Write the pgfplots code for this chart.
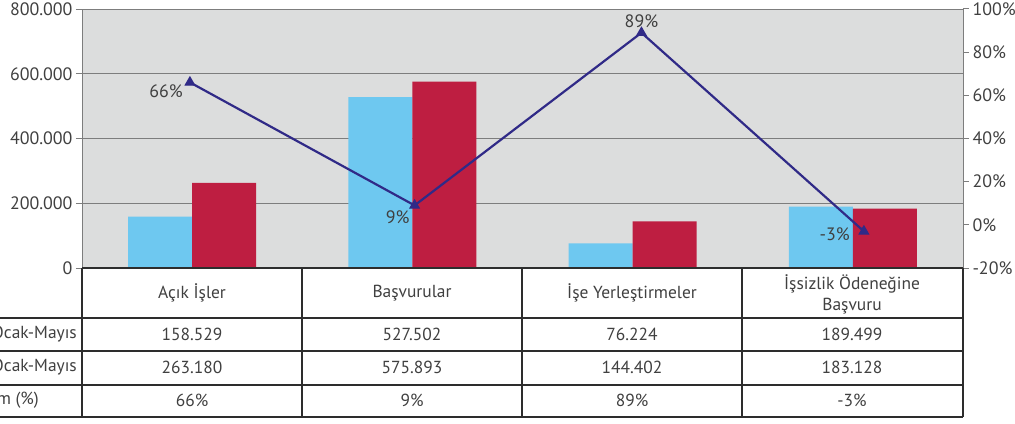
\documentclass[border=0pt]{standalone}
\usepackage{pgfplots}
\pgfplotsset{compat=1.18}
\usepackage{fontspec}
\setmainfont{PT Sans}
\definecolor{bg}{RGB}{220,221,221}
\definecolor{lblue}{RGB}{110,200,240}
\definecolor{cred}{RGB}{190,30,65}
\definecolor{navy}{RGB}{48,42,135}
\definecolor{gridc}{RGB}{125,125,125}
\definecolor{txt}{RGB}{64,64,64}
\definecolor{tline}{RGB}{45,45,45}
\begin{document}
\begin{tikzpicture}[x=1bp,y=1bp]
\path[use as bounding box] (0,0) rectangle (1015,423);
\begin{axis}[at={(82bp,155bp)}, anchor=south west, scale only axis,
  width=881bp, height=259bp,
  xmin=-0.5, xmax=3.5, ymin=0, ymax=800000,
  axis background/.style={fill=bg},
  ybar=0pt, bar width=64bp,
  xtick=\empty,
  ytick={0,200000,400000,600000,800000},
  yticklabels={0,200.000,400.000,600.000,800.000},
  scaled y ticks=false,
  ymajorgrids, major grid style={draw=gridc, line width=1pt},
  axis line style={draw=gridc, line width=1pt},
  tick align=outside, ytick pos=left, major tick length=6bp,
  tick style={draw=gridc, line width=1pt},
  yticklabel style={font=\fontsize{18}{18}\selectfont, text=txt},
  clip=false]
\addplot[fill=lblue, draw=none] coordinates {(0,158529) (1,527502) (2,76224) (3,189499)};
\addplot[fill=cred, draw=none] coordinates {(0,263180) (1,575893) (2,144402) (3,183128)};
\end{axis}
\begin{axis}[at={(82bp,155bp)}, anchor=south west, scale only axis,
  width=881bp, height=259bp,
  xmin=-0.5, xmax=3.5, ymin=-20, ymax=100,
  axis x line=none, axis y line*=right,
  ytick={-20,0,20,40,60,80,100},
  yticklabel={\pgfmathprintnumber[assume math mode=true]{\tick}\%},
  /pgf/number format/assume math mode=true,
  axis line style={draw=gridc, line width=1pt},
  tick align=outside, major tick length=6bp,
  tick style={draw=gridc, line width=1pt},
  yticklabel style={font=\fontsize{18}{18}\selectfont, text=txt},
  clip=false]
\addplot[navy, line width=2.2pt, mark=triangle*, mark size=5.5bp, mark options={line width=1pt}] coordinates {(-0.01,66) (1.01,9) (2.04,89) (3.05,-3)};
\node[anchor=north east, text=txt, font=\fontsize{18}{18}\selectfont, inner sep=1pt] at ([xshift=-6bp,yshift=-1bp]axis cs:-0.01,66) {66\%};
\node[anchor=north east, text=txt, font=\fontsize{18}{18}\selectfont, inner sep=1pt] at ([xshift=-4bp,yshift=-4bp]axis cs:1.01,9) {9\%};
\node[anchor=south, text=txt, font=\fontsize{18}{18}\selectfont, inner sep=1pt] at ([yshift=4bp]axis cs:2.04,89) {89\%};
\node[anchor=east, text=txt, font=\fontsize{18}{18}\selectfont, inner sep=1pt] at ([xshift=-13bp,yshift=-3bp]axis cs:3.05,-3) {-3\%};
\end{axis}
% table
\begin{scope}[draw=tline, line width=1.5pt]
\draw (82,155) -- (963,155);
\foreach \yy in {105,72,38,6} \draw (0,\yy) -- (963,\yy);
\foreach \xx in {82,302,522,742,963} \draw (\xx,155) -- (\xx,6);
\end{scope}
\begin{scope}[every node/.style={text=txt, font=\fontsize{17.5}{21}\selectfont, inner sep=0pt}]
\node at (192,130) {Açık İşler};
\node at (412,130) {Başvurular};
\node at (632,130) {İşe Yerleştirmeler};
\node[align=center] at (852,129) {İşsizlik Ödeneğine\\Başvuru};
\node at (192,89) {158.529};
\node at (412,89) {527.502};
\node at (632,89) {76.224};
\node at (852,89) {189.499};
\node at (192,56) {263.180};
\node at (412,56) {575.893};
\node at (632,56) {144.402};
\node at (852,56) {183.128};
\node at (192,23) {66\%};
\node at (412,23) {9\%};
\node at (632,23) {89\%};
\node at (852,23) {-3\%};
\node[anchor=east] at (77,89) {2010 Ocak-Mayıs};
\node[anchor=east] at (77,56) {2011 Ocak-Mayıs};
\node[anchor=east] at (39,23) {Değişim (\%)};
\end{scope}
\end{tikzpicture}
\end{document}
